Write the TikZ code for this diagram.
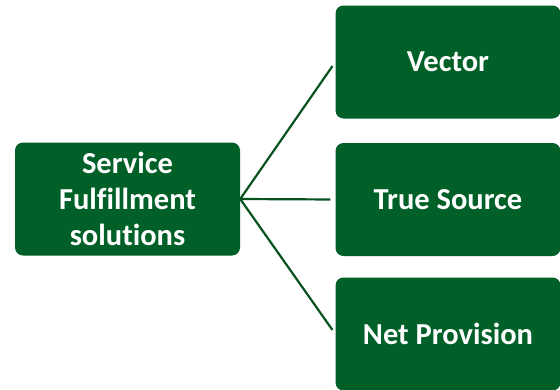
\documentclass[tikz,border=0pt]{standalone}
\usepackage{fontspec}
\setmainfont{Carlito}[Ligatures={NoCommon}]
\usepackage{tikz}
\usetikzlibrary{calc}

\definecolor{boxgreen}{RGB}{0,96,40}
\definecolor{linegreen}{RGB}{8,82,32}

\begin{document}
\begin{tikzpicture}[x=1pt, y=-1pt,
	box/.style={fill=boxgreen, rounded corners=8pt, text=white,
		font=\fontsize{30.5}{36}\selectfont\bfseries, align=center,
		minimum width=225pt, minimum height=113pt, inner sep=0pt},
	link/.style={linegreen, line width=2.2pt, shorten >=5pt}]

\newcommand{\rightx}{448}

	\useasboundingbox (0, 0) rectangle (560, 389);

	\node[box] (service) at (127.5, 199) {Service\\Fulfillment\\solutions};

	\node[box] (vector) at (\rightx, 62) {Vector};
	\node[box] (truesrc) at (\rightx, 199.5) {True Source};
	\node[box] (netprov) at (\rightx, 334) {Net Provision};

	\draw[link] (service.east) -- (vector.west);
	\draw[link] (service.east) -- (truesrc.west);
	\draw[link] (service.east) -- (netprov.west);
  \end{tikzpicture}
\end{document}
